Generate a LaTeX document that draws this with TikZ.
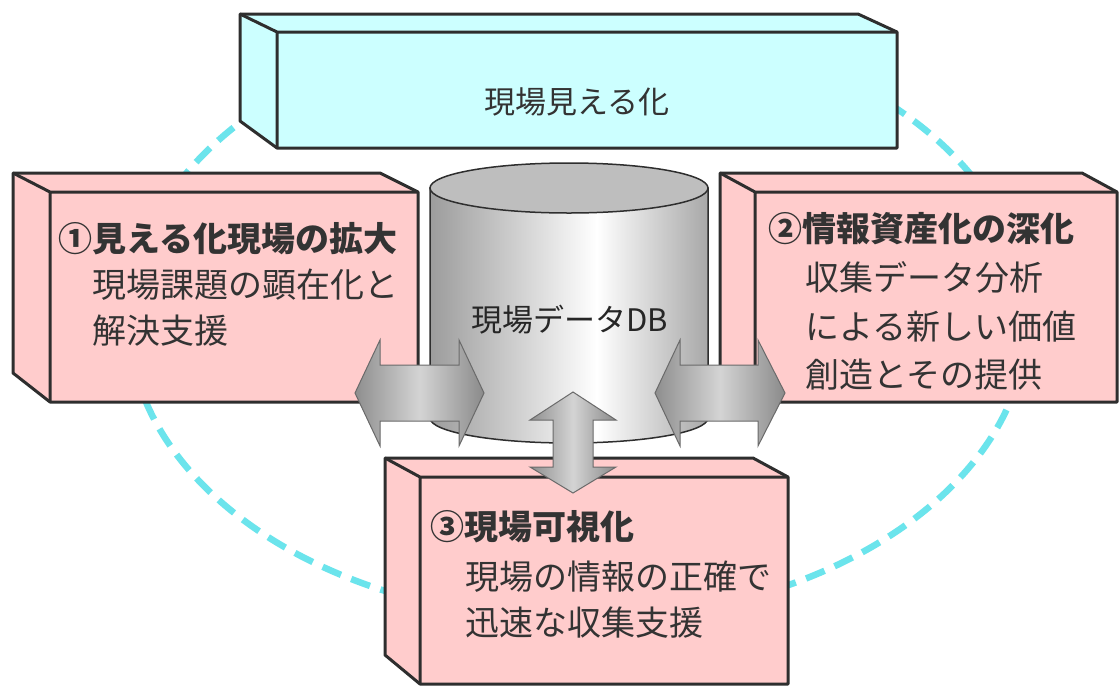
\documentclass[tikz,border=0pt]{standalone}
\usepackage{fontspec}
\setmainfont{Noto Sans CJK JP}
\definecolor{pinkfill}{HTML}{FFCCCC}
\definecolor{cyanfill}{HTML}{CCFFFF}
\definecolor{edge}{HTML}{2E2E2E}
\definecolor{dashc}{HTML}{6BE4EC}
\definecolor{txt}{HTML}{333333}
\definecolor{cylL}{HTML}{9C9C9C}
\definecolor{cylR}{HTML}{A8A8A8}
\definecolor{cyltop}{HTML}{BEBEBE}
\definecolor{arrL}{HTML}{8E8E8E}
\definecolor{arrM}{HTML}{D4D4D4}
\definecolor{arrR}{HTML}{8A8A8A}
\definecolor{arrEdge}{HTML}{6A6A6A}
\pgfdeclarehorizontalshading{cylshade}{100bp}{color(0bp)=(cylL); color(25bp)=(cylL); color(55bp)=(white); color(75bp)=(cylR); color(100bp)=(cylR)}
\pgfdeclarehorizontalshading{arrshade}{100bp}{color(0bp)=(arrL); color(25bp)=(arrL); color(50bp)=(arrM); color(75bp)=(arrR); color(100bp)=(arrR)}
\newcommand{\slabbox}[2]{%
  \filldraw[boxline, fill=#2] (#1btl) -- (#1btr) -- (#1ftr) -- (#1fbr) -- (#1fbl) -- (#1bbl) -- cycle;
  \draw[boxline] (#1btl) -- (#1ftl) -- (#1ftr) (#1ftl) -- (#1fbl);
}
\tikzset{
  boxline/.style={draw=edge, line width=3pt, line join=round},
  headtxt/.style={font=\bfseries\fontsize{34}{40}\selectfont, text=txt, inner sep=0pt, anchor=west},
  bodytxt/.style={font=\fontsize{34}{40}\selectfont, text=txt, inner sep=0pt, anchor=west},
  blockarrow/.style={shading=arrshade, draw=arrEdge, line width=1pt, line join=miter},
  ring/.style={draw=dashc, line width=6.5pt, dash pattern=on 20pt off 11pt},
}
\begin{document}
\begin{tikzpicture}[x=1pt,y=-1pt]
\useasboundingbox (0,0) rectangle (1119,686);
\fill[white] (0,0) rectangle (1119,686);
\clip (0,0) rectangle (1119,686);
% dashed ring
\draw[ring] (578,320) ellipse [x radius=449, y radius=300];
% cyan box
\coordinate (cbtl) at (240,14);  \coordinate (cbtr) at (858,14);
\coordinate (cftl) at (277,32);  \coordinate (cftr) at (897,32);
\coordinate (cfbl) at (277,148); \coordinate (cfbr) at (897,148);
\coordinate (cbbl) at (240,121);
\slabbox{c}{cyanfill}
% pink box 1
\coordinate (abtl) at (13,173);  \coordinate (abtr) at (380,173);
\coordinate (aftl) at (50,192);  \coordinate (aftr) at (418,192);
\coordinate (afbl) at (50,402);  \coordinate (afbr) at (418,402);
\coordinate (abbl) at (13,373);
\slabbox{a}{pinkfill}
% pink box 2
\coordinate (bbtl) at (720,173);  \coordinate (bbtr) at (1082,173);
\coordinate (bftl) at (755,192);  \coordinate (bftr) at (1117,192);
\coordinate (bfbl) at (755,402);  \coordinate (bfbr) at (1117,402);
\coordinate (bbbl) at (720,373);
\slabbox{b}{pinkfill}
% pink box 3
\coordinate (dbtl) at (385,458);  \coordinate (dbtr) at (753,458);
\coordinate (dftl) at (420,477);  \coordinate (dftr) at (788,477);
\coordinate (dfbl) at (420,684);  \coordinate (dfbr) at (788,684);
\coordinate (dbbl) at (385,655);
\slabbox{d}{pinkfill}
% cylinder
\shadedraw[shading=cylshade, draw=edge, line width=1.5pt]
  (430,188) -- (430,418) arc[start angle=180, end angle=0, x radius=139, y radius=25] -- (708,188) -- cycle;
\filldraw[fill=cyltop, draw=edge, line width=1.5pt] (569,188) ellipse [x radius=139, y radius=25];
\node[font=\fontsize{31}{36}\selectfont, text=black!85, inner sep=0pt] (db) at (570,320) {現場データDB};
% block arrows
\shadedraw[blockarrow] (355,393) -- (380,340) -- (380,365) -- (459,365) -- (459,340) -- (484,393)
  -- (459,446) -- (459,421) -- (380,421) -- (380,446) -- cycle;
\shadedraw[blockarrow] (655,393) -- (680,340) -- (680,365) -- (758,365) -- (758,340) -- (785,393)
  -- (758,446) -- (758,421) -- (680,421) -- (680,446) -- cycle;
\shadedraw[blockarrow] (573,392) -- (616,420) -- (593,420) -- (593,467) -- (616,467) -- (573,493)
  -- (530,467) -- (553,467) -- (553,420) -- (530,420) -- cycle;
% texts
\node[font=\fontsize{31}{36}\selectfont, text=txt, inner sep=0pt] (ctitle) at (577,102) {現場見える化};
\node[headtxt] (a1) at (58,239) {①見える化現場の拡大};
\node[bodytxt] (a2) at (92,285) {現場課題の顕在化と};
\node[bodytxt] (a3) at (92,331) {解決支援};
\node[headtxt] (b1) at (768,229) {②情報資産化の深化};
\node[bodytxt] (b2) at (805,277) {収集データ分析};
\node[bodytxt] (b3) at (805,327) {による新しい価値};
\node[bodytxt] (b4) at (805,375) {創造とその提供};
\node[headtxt] (d1) at (430,527) {③現場可視化};
\node[bodytxt] (d2) at (465,577) {現場の情報の正確で};
\node[bodytxt] (d3) at (465,623) {迅速な収集支援};
\end{tikzpicture}
\end{document}
